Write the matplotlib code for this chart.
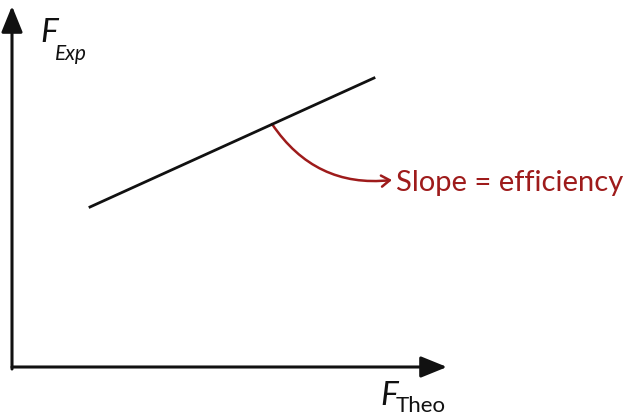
import matplotlib.pyplot as plt
from matplotlib.patches import FancyArrowPatch

# sketch coordinates (canvas units, y grows downward)
line_x = [90, 374]
line_y = [207, 78]
origin = (12, 367)
x_axis_end = 447
y_axis_end = 6

x_label = "F"
x_sub = "Theo"
y_label = "F"
y_sub = "Exp"
note = "Slope = efficiency"

ink = "#111111"
red = "#9e1b1b"

fig = plt.figure(figsize=(6.32, 4.19), dpi=100)
ax = fig.add_axes([0, 0, 1, 1])
ax.set_xlim(0, 632)
ax.set_ylim(419, 0)
ax.axis("off")

# axes with arrowheads
ax.annotate("", xy=(x_axis_end, origin[1]), xytext=(origin[0], origin[1]),
            arrowprops=dict(arrowstyle="-|>,head_length=1.6,head_width=0.65",
                            color=ink, lw=2.2, shrinkA=0, shrinkB=0))
ax.annotate("", xy=(origin[0], y_axis_end), xytext=(origin[0], origin[1] + 2),
            arrowprops=dict(arrowstyle="-|>,head_length=1.6,head_width=0.65",
                            color=ink, lw=2.2, shrinkA=0, shrinkB=0))

# the fitted line
ax.plot(line_x, line_y, color=ink, lw=2)

# curved pointer from the line to the note
arr = FancyArrowPatch((272, 124), (392, 180),
                      connectionstyle="arc3,rad=0.3",
                      arrowstyle="->,head_length=6,head_width=4",
                      color=red, lw=1.8, shrinkA=0, shrinkB=0)
ax.add_patch(arr)
ax.text(396, 183, note, color=red, fontsize=21, family="Lato",
        va="center", ha="left")

# axis labels
ax.text(40, 42, y_label, fontsize=24, family="Lato", style="italic",
        color=ink, va="baseline")
ax.text(55, 60, y_sub, fontsize=15, family="Lato", style="italic",
        color=ink, va="baseline")
ax.text(380, 405, x_label, fontsize=24, family="Lato", style="italic",
        color=ink, va="baseline")
ax.text(396, 412, x_sub, fontsize=16, family="Lato", color=ink,
        va="baseline")

fig.savefig("out.png", dpi=100)
